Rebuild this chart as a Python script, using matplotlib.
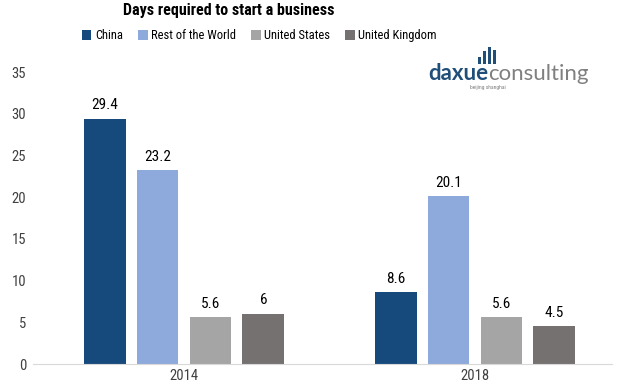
import matplotlib

matplotlib.use("Agg")
import matplotlib.pyplot as plt
import numpy as np

plt.rcParams["font.family"] = ["Roboto Condensed", "Liberation Sans", "DejaVu Sans"]

years = ["2014", "2018"]
series = ["China", "Rest of the World", "United States", "United Kingdom"]
china = [29.4, 8.6]
rest_world = [23.2, 20.1]
united_states = [5.6, 5.6]
united_kingdom = [6, 4.5]
labels = [["29.4", "8.6"], ["23.2", "20.1"], ["5.6", "5.6"], ["6", "4.5"]]
colors = ["#174A7C", "#8EA9DB", "#A5A5A5", "#767171"]

W, H = 622, 390
fig = plt.figure(figsize=(W / 100, H / 100), dpi=100)
ax = fig.add_axes([38.5 / W, 26 / H, 582 / W, 292 / H])

x = np.arange(len(years))
width = 0.144
step = 0.182
values = [china, rest_world, united_states, united_kingdom]
for i, (name, vals) in enumerate(zip(series, values)):
    pos = x + (i - 1.5) * step
    ax.bar(pos, vals, width, color=colors[i], label=name)
    for px, v, lab in zip(pos, vals, labels[i]):
        ax.text(px, v + 0.8, lab, ha="center", va="bottom", fontsize=11, color="#000000")

ax.set_xlim(-0.5, 1.5)
ax.set_ylim(0, 35)
ax.set_yticks(range(0, 36, 5))
ax.set_xticks(x)
ax.set_xticklabels(years)
ax.tick_params(axis="both", length=0, labelsize=10.5, colors="#404040")
ax.tick_params(axis="y", pad=9)
for s in ["top", "right", "left"]:
    ax.spines[s].set_visible(False)
ax.spines["bottom"].set_color("#D9D9D9")
ax.spines["bottom"].set_bounds(-0.52, 1.47)

fig.text(0.367, 0.972, "Days required to start a business", ha="center", va="center",
         fontsize=11.5, fontweight="bold")
fig.legend(loc="center left", bbox_to_anchor=(82 / W, 0.908), ncol=4, frameon=False,
           fontsize=9, handlelength=0.75, handleheight=0.75, handletextpad=0.3,
           columnspacing=1.2, borderpad=0, borderaxespad=0)

# logo
renderer = fig.canvas.get_renderer()
t1 = fig.text(428 / W, 1 - 80 / H, "daxue", fontsize=16, color="#1F4E79", fontweight="bold",
              family="Lato", ha="left", va="baseline")
bb = t1.get_window_extent(renderer)
fig.text(bb.x1 / W, 1 - 80 / H, "consulting", fontsize=16, color="#808080",
         family="Lato", ha="left", va="baseline")
fig.text(470 / W, 1 - 89 / H, "beijing shanghai", fontsize=4, color="#7F7F7F", ha="left")
logo = fig.add_axes([477 / W, 1 - 64 / H, 20 / W, 17 / H])
logo.bar([0, 1, 2, 3], [0.4, 0.75, 1.0, 0.85], width=0.55, color="#1F4E79")
logo.set_xlim(-0.5, 3.5)
logo.set_ylim(0, 1)
logo.axis("off")

fig.savefig("out.png", dpi=100)
